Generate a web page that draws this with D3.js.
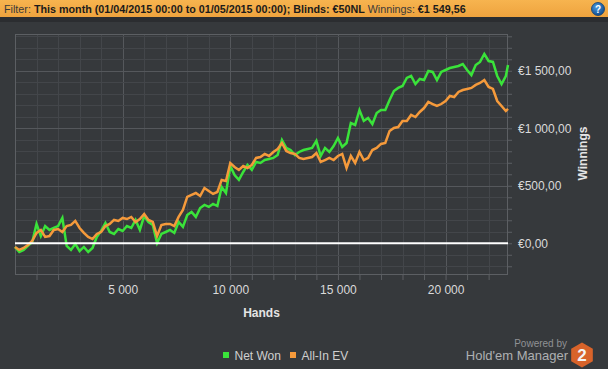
<!DOCTYPE html>
<html lang="en">
<head>
<meta charset="UTF-8">
<title>Winnings</title>
<script src="https://d3js.org/d3.v7.min.js"></script>
<style>
html, body { margin: 0; padding: 0; background: #36393c; }
svg { display: block; font-family: "Liberation Sans", Arial, sans-serif; }
</style>
</head>
<body>
<div id="chart"></div>
<script>

// data (hands played vs cumulative euros)
var hands = [0, 200, 400, 600, 800, 1000, 1200, 1400, 1600, 1800,
    2000, 2200, 2400, 2600, 2800, 3000, 3200, 3400, 3600, 3800,
    4000, 4200, 4400, 4600, 4800, 5000, 5200, 5400, 5600, 5800,
    6000, 6200, 6400, 6600, 6800, 7000, 7200, 7400, 7600, 7800,
    8000, 8200, 8400, 8600, 8800, 9000, 9200, 9400, 9600, 9800,
    10000, 10200, 10400, 10600, 10800, 11000, 11200, 11400, 11600, 11800,
    12000, 12200, 12400, 12600, 12800, 13000, 13200, 13400, 13600, 13800,
    14000, 14200, 14400, 14600, 14800, 15000, 15200, 15400, 15600, 15800,
    16000, 16200, 16400, 16600, 16800, 17000, 17200, 17400, 17600, 17800,
    18000, 18200, 18400, 18600, 18800, 19000, 19200, 19400, 19600, 19800,
    20000, 20200, 20400, 20600, 20800, 21000, 21200, 21400, 21600, 21800,
    22000, 22200, 22400, 22600, 22800, 22900];

var netWon = [-32, -76, -58, -23, 11, 168, 63, 150, 116, 133,
    150, 220, -23, -58, -6, -67, -32, -76, -41, 55,
    107, 177, 98, 81, 124, 107, 150, 133, 203, 116,
    237, 185, 159, 3, 81, 98, 116, 90, 185, 142,
    246, 272, 229, 307, 333, 316, 342, 324, 490, 437,
    672, 594, 551, 620, 681, 638, 707, 698, 724, 733,
    742, 768, 898, 829, 811, 768, 794, 811, 820, 829,
    890, 759, 829, 794, 846, 916, 837, 872, 1046, 1029,
    1159, 1064, 1090, 1037, 1133, 1159, 1159, 1246, 1324, 1351,
    1368, 1438, 1455, 1385, 1429, 1420, 1498, 1490, 1420, 1490,
    1507, 1524, 1533, 1542, 1559, 1507, 1463, 1550, 1577, 1646,
    1585, 1577, 1455, 1385, 1455, 1550];

var allInEV = [-32, -58, -41, -15, 20, 90, 116, 55, 63, 116,
    124, 98, 150, 159, 194, 133, 90, 55, 37, 81,
    98, 150, 168, 203, 194, 220, 211, 229, 185, 211,
    255, 203, 185, 63, 159, 168, 168, 150, 229, 290,
    403, 420, 437, 411, 481, 455, 429, 446, 551, 542,
    698, 664, 638, 672, 655, 681, 742, 750, 777, 759,
    794, 820, 872, 803, 785, 777, 742, 733, 742, 750,
    785, 707, 724, 742, 724, 759, 777, 655, 759, 698,
    794, 724, 742, 811, 829, 864, 872, 977, 1003, 1011,
    1064, 1064, 1116, 1098, 1142, 1176, 1229, 1211, 1194, 1211,
    1237, 1281, 1272, 1316, 1333, 1342, 1351, 1377, 1394, 1420,
    1359, 1342, 1237, 1194, 1150, 1168];

var seriesNames = ["Net Won", "All-In EV"];
var seriesColors = ["#3ae33a", "#f59a3b"];

var W = 608, H = 369;
var margin = {top: 34, right: 100, bottom: 94, left: 15};
var width = W - margin.left - margin.right,
    height = H - margin.top - margin.bottom;

var euro = d3.formatLocale({decimal: ",", thousands: "\u00a0", grouping: [3], currency: ["€", ""]});
var fmtMoney = euro.format("$,.2f");
var fmtHands = euro.format(",d");

var x = d3.scaleLinear().domain([0, 22900]).range([0, width]);
var y = d3.scaleLinear().domain([-276, 1820]).range([height, 0]);

var svg = d3.select("#chart").append("svg")
    .attr("width", W)
    .attr("height", H);

var defs = svg.append("defs");
var hg = defs.append("linearGradient").attr("id", "hdr").attr("x1", 0).attr("y1", 0).attr("x2", 0).attr("y2", 1);
hg.append("stop").attr("offset", "0%").attr("stop-color", "#f7b44f");
hg.append("stop").attr("offset", "100%").attr("stop-color", "#eea33e");
var qg = defs.append("radialGradient").attr("id", "qbtn").attr("cx", "40%").attr("cy", "35%").attr("r", "65%");
qg.append("stop").attr("offset", "0%").attr("stop-color", "#4d9be0");
qg.append("stop").attr("offset", "100%").attr("stop-color", "#134f90");

// header bar
svg.append("rect").attr("x", 0).attr("y", 0).attr("width", W).attr("height", 17).attr("fill", "url(#hdr)");
svg.append("rect").attr("x", 0).attr("y", 17).attr("width", W).attr("height", 5).attr("fill", "#2b2d30");

var hdr = svg.append("text")
    .attr("x", 4).attr("y", 12.5)
    .attr("font-size", 11)
    .attr("fill", "#1b1b1b");
hdr.append("tspan").attr("fill", "#3a3a3a").text("Filter: ");
hdr.append("tspan").attr("font-weight", "bold").text("This month (01/04/2015 00:00 to 01/05/2015 00:00); Blinds: €50NL ");
hdr.append("tspan").attr("fill", "#3a3a3a").text("Winnings: ");
hdr.append("tspan").attr("font-weight", "bold").text("€1 549,56");
// shrink font so the line ends where the reference one does
var hdrLen = hdr.node().getComputedTextLength();
if (hdrLen > 0) hdr.attr("font-size", Math.min(11, 11 * 462 / hdrLen));

svg.append("circle").attr("cx", 598).attr("cy", 9).attr("r", 6.5)
    .attr("fill", "url(#qbtn)").attr("stroke", "#0f3f73").attr("stroke-width", 0.8);
svg.append("text").attr("x", 598).attr("y", 12.5).attr("text-anchor", "middle")
    .attr("font-size", 10).attr("font-weight", "bold").attr("fill", "#fff").text("?");

var g = svg.append("g")
    .attr("transform", "translate(" + margin.left + "," + margin.top + ")");

// grid
var xMinor = d3.range(1000, 22900, 1000);
var yMinor = d3.range(-200, 1820, 100);

g.selectAll(".vgrid").data(xMinor).enter().append("line")
    .attr("x1", function(d) { return Math.round(x(d)) + 0.5; })
    .attr("x2", function(d) { return Math.round(x(d)) + 0.5; })
    .attr("y1", 0).attr("y2", height)
    .attr("stroke", function(d) { return d % 5000 === 0 ? "#55585c" : "#43464a"; });

g.selectAll(".hgrid").data(yMinor).enter().append("line")
    .attr("x1", 0).attr("x2", width)
    .attr("y1", function(d) { return Math.round(y(d)) + 0.5; })
    .attr("y2", function(d) { return Math.round(y(d)) + 0.5; })
    .attr("stroke", function(d) { return d % 500 === 0 ? "#55585c" : "#43464a"; });

g.append("rect").attr("x", 0.5).attr("y", 0.5).attr("width", width - 1).attr("height", height - 1)
    .attr("fill", "none").attr("stroke", "#5c5f63");

// axes
var yAxis = g.append("g")
    .attr("transform", "translate(" + width + ",0)")
    .call(d3.axisRight(y).tickValues(yMinor).tickSize(4).tickPadding(6)
        .tickFormat(function(d) { return d % 500 === 0 ? fmtMoney(d) : ""; }));
var xAxis = g.append("g")
    .attr("transform", "translate(0," + height + ")")
    .call(d3.axisBottom(x).tickValues(xMinor).tickSize(5).tickPadding(5.5)
        .tickFormat(function(d) { return d % 5000 === 0 ? fmtHands(d) : ""; }));

[xAxis, yAxis].forEach(function(a) {
    a.select(".domain").remove();
    a.selectAll(".tick line").attr("stroke", "#5c5f63");
    a.selectAll(".tick text").attr("fill", "#dadada").attr("font-size", 12)
        .attr("font-family", "Liberation Sans, Arial, sans-serif");
});

// series
var line = d3.line()
    .x(function(d) { return x(d[0]); })
    .y(function(d) { return y(d[1]); });

var series = [netWon, allInEV];
series.forEach(function(vals, k) {
    g.append("path")
        .datum(hands.map(function(h, i) { return [h, vals[i]]; }))
        .attr("fill", "none")
        .attr("stroke", seriesColors[k])
        .attr("stroke-width", 2.5)
        .attr("stroke-linejoin", "miter")
        .attr("d", line);
});

// zero line
g.append("line")
    .attr("x1", 0).attr("x2", width)
    .attr("y1", y(0)).attr("y2", y(0))
    .attr("stroke", "#ffffff").attr("stroke-width", 2.2);

// axis titles
svg.append("text").attr("x", margin.left + width / 2).attr("y", 317)
    .attr("text-anchor", "middle").attr("font-size", 12).attr("font-weight", "bold")
    .attr("fill", "#e4e4e4").text("Hands");
svg.append("text").attr("transform", "translate(587,153.5) rotate(-90)")
    .attr("text-anchor", "middle").attr("font-size", 12).attr("font-weight", "bold")
    .attr("fill", "#e4e4e4").text("Winnings");

// legend
var legX = [223, 290];
seriesNames.forEach(function(n, k) {
    svg.append("rect").attr("x", legX[k]).attr("y", 352).attr("width", 6).attr("height", 6)
        .attr("fill", seriesColors[k]);
    svg.append("text").attr("x", legX[k] + 11.5).attr("y", 360)
        .attr("font-size", 12).attr("fill", "#cfcfcf").text(n);
});

// powered by
svg.append("text").attr("x", 567).attr("y", 347).attr("text-anchor", "end")
    .attr("font-size", 10).attr("fill", "#909295").text("Powered by");
svg.append("text").attr("x", 568).attr("y", 360).attr("text-anchor", "end")
    .attr("font-size", 13).attr("fill", "#aeb0b2").text("Hold'em Manager");
var hex = d3.range(6).map(function(i) {
    var a = Math.PI / 3 * i - Math.PI / 2;
    return [582 + 12.5 * Math.cos(a), 355 + 12.5 * Math.sin(a)];
});
svg.append("polygon").attr("points", hex.map(function(p) { return p.join(","); }).join(" "))
    .attr("fill", "#d8632a");
svg.append("text").attr("x", 582).attr("y", 361).attr("text-anchor", "middle")
    .attr("font-size", 17).attr("font-weight", "bold").attr("fill", "#f4f4f4").text("2");

</script>
</body>
</html>
